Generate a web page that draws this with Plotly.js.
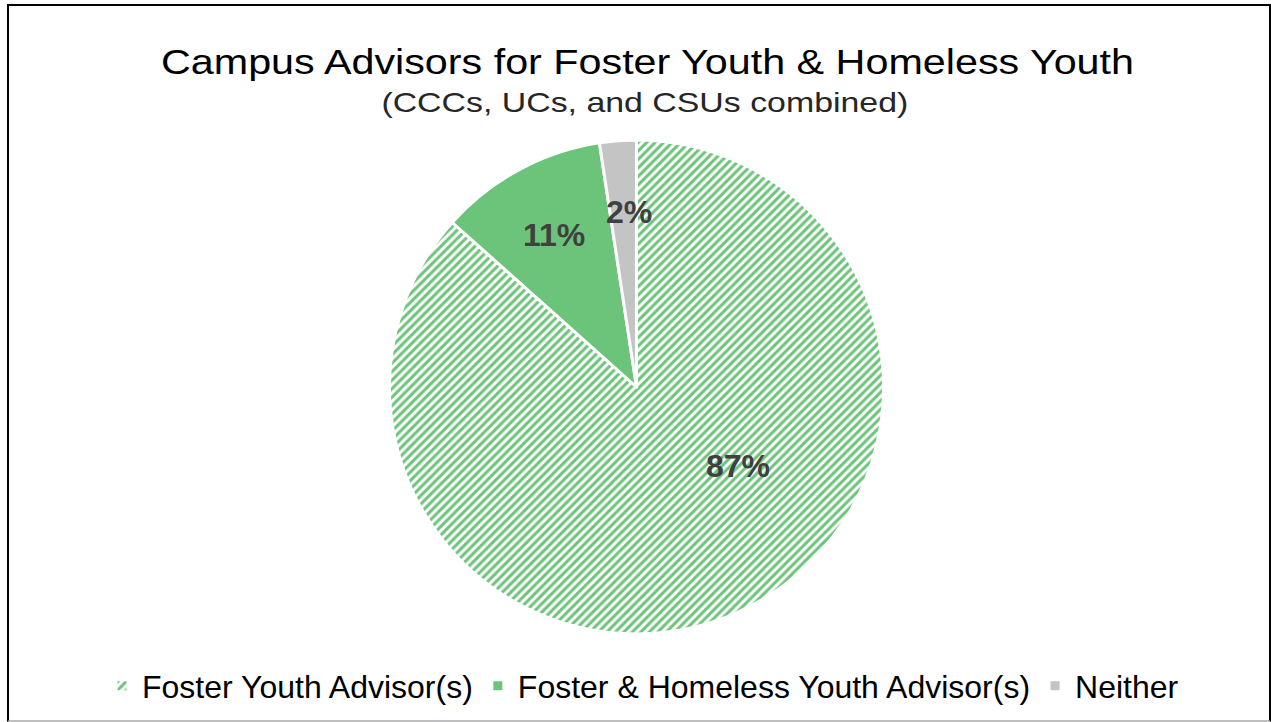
<!DOCTYPE html>
<html>
<head>
<meta charset="utf-8">
<script src="https://cdn.plot.ly/plotly-3.0.1.min.js"></script>
<style>
html,body{margin:0;padding:0;background:#fff;}
#wrap{position:relative;width:1271px;height:722px;overflow:hidden;}
#chart{width:1271px;height:722px;}
#frame{position:absolute;left:7px;top:4px;width:1260px;height:714px;border-left:2px solid #000;border-top:2px solid #000;border-right:2px solid #000;border-bottom:2px solid #bfbfbf;pointer-events:none;}
#chart .gtitle{transform-box:fill-box;transform-origin:center;transform:scaleX(1.18);}
#chart .subtitle-text{transform-box:fill-box;transform-origin:center;transform:scaleX(1.21);}
</style>
</head>
<body>
<div id="wrap"><div id="chart"></div><div id="frame"></div></div>
<script>
const categories = ["Foster Youth Advisor(s)", "Foster & Homeless Youth Advisor(s)", "Neither"];
const shares = [86.6, 11.0, 2.4];
const colors = ["#6cc47a", "#6cc47a", "#c4c4c4"];
const titleText = "Campus Advisors for Foster Youth & Homeless Youth";
const subtitleText = "(CCCs, UCs, and CSUs combined)";

// label placement style (radial fraction of radius, angular shift in degrees)
const labelStyle = [{r: 0.52, shift: -28}, {r: 0.70, shift: 0}, {r: 0.71, shift: 2}];

const W = 1271, H = 722;
const M = {l: 2, r: 0, t: 140, b: 88};
const plotW = W - M.l - M.r, plotH = H - M.t - M.b;

const total = shares.reduce((a, b) => a + b, 0);
let cum = 0;
const labelAnns = shares.map((v, i) => {
  const mid = (cum + v / 2) / total * 360 + labelStyle[i].shift; // clockwise from top
  cum += v;
  const rad = mid * Math.PI / 180;
  const R = Math.min(plotW, plotH) / 2;
  const dx = Math.sin(rad) * R * labelStyle[i].r;
  const dy = Math.cos(rad) * R * labelStyle[i].r;
  return {
    text: Math.round(v / total * 100) + "%",
    xref: "paper", yref: "paper",
    x: 0.5 + dx / plotW, y: 0.5 + dy / plotH,
    xanchor: "center", yanchor: "middle",
    showarrow: false,
    font: {family: "Liberation Sans, Arial, sans-serif", size: 32, color: "#404040", weight: "bold"}
  };
});

const trace = {
  type: "pie",
  labels: categories,
  values: shares,
  sort: false,
  direction: "clockwise",
  rotation: 0,
  textinfo: "none",
  hoverinfo: "label+percent",
  marker: {
    colors: colors,
    line: {color: "#ffffff", width: 3},
    pattern: {
      shape: ["/", "", ""],
      fgcolor: "#6cc47a",
      bgcolor: "#ffffff",
      fgopacity: 1,
      size: 6,
      solidity: 0.5,
      fillmode: "replace"
    }
  },
  domain: {x: [0, 1], y: [0, 1]}
};

const subtitleAnn = {
  text: subtitleText,
  xref: "paper", yref: "paper",
  x: (645 - M.l) / plotW, y: (H - M.b - 103) / plotH,
  xanchor: "center", yanchor: "middle",
  showarrow: false,
  captureevents: false,
  font: {family: "Liberation Sans, Arial, sans-serif", size: 28, color: "#262626"}
};

const layout = {
  width: W,
  height: H,
  margin: M,
  paper_bgcolor: "#ffffff",
  showlegend: true,
  title: {
    text: titleText,
    font: {family: "Liberation Sans, Arial, sans-serif", size: 35, color: "#000000"},
    x: 647.5 / W, xanchor: "center",
    y: 1 - 62 / H, yanchor: "middle", yref: "container"
  },
  annotations: [subtitleAnn].concat(labelAnns),
  legend: {
    orientation: "h",
    x: (643 - M.l) / plotW, xanchor: "center",
    y: (H - M.b - 686) / plotH, yanchor: "middle",
    font: {family: "Liberation Sans, Arial, sans-serif", size: 32, color: "#000000"},
    itemwidth: 30,
    traceorder: "normal"
  }
};

Plotly.newPlot("chart", [trace], layout, {displayModeBar: false, staticPlot: true}).then(() => {
  // mark the subtitle annotation text for the same horizontal stretch as the title
  const t = document.querySelector("#chart .annotation text.annotation-text");
  if (t) t.classList.add("subtitle-text");
});
</script>
</body>
</html>
